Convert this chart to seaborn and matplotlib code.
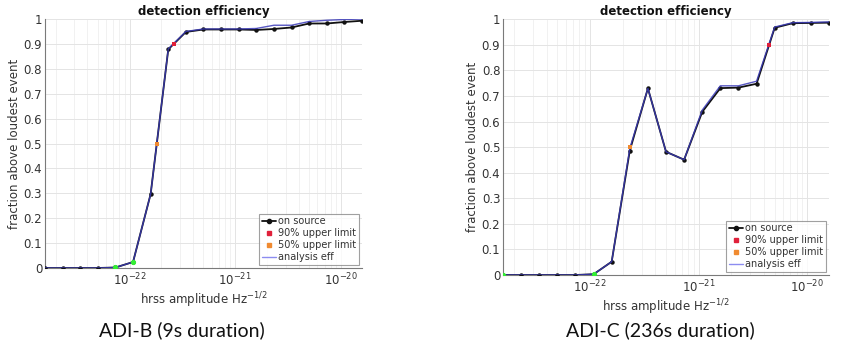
import numpy as np
import pandas as pd
import matplotlib
matplotlib.use("Agg")
import matplotlib.pyplot as plt
from matplotlib.ticker import LogLocator, NullFormatter, FixedLocator
from matplotlib.lines import Line2D
import seaborn as sns

# ---------------- data ----------------
hrss = [1.585e-23, 2.327e-23, 3.415e-23, 5.012e-23, 7.356e-23, 1.080e-22,
        1.585e-22, 2.327e-22, 3.415e-22, 5.012e-22, 7.356e-22, 1.080e-21,
        1.585e-21, 2.327e-21, 3.415e-21, 5.012e-21, 7.356e-21, 1.080e-20,
        1.585e-20]

adib_onsource = [0.0, 0.0, 0.0, 0.0, 0.002, 0.024, 0.297, 0.878, 0.948, 0.958,
                 0.958, 0.958, 0.956, 0.960, 0.966, 0.982, 0.982, 0.988, 0.993]
adib_eff = [0.0, 0.0, 0.0, 0.0, 0.002, 0.024, 0.297, 0.880, 0.950, 0.960,
            0.960, 0.960, 0.962, 0.975, 0.975, 0.990, 0.995, 0.998, 1.0]
adib_green_idx = [4, 5]
adib_ul90 = (2.63e-22, 0.9)
adib_ul50 = (1.82e-22, 0.5)

adic_onsource = [0.0, 0.0, 0.0, 0.0, 0.0, 0.003, 0.052, 0.487, 0.730, 0.482,
                 0.451, 0.638, 0.731, 0.733, 0.748, 0.967, 0.985, 0.986, 0.987]
adic_eff = [0.0, 0.0, 0.0, 0.0, 0.0, 0.003, 0.052, 0.495, 0.730, 0.482,
            0.451, 0.645, 0.740, 0.740, 0.758, 0.970, 0.987, 0.988, 0.990]
adic_green_idx = [0, 5]
adic_ul90 = (4.47e-21, 0.9)
adic_ul50 = (2.36e-22, 0.5)

captions = ["ADI-B (9s duration)", "ADI-C (236s duration)"]
title = "detection efficiency"
xlabel = "hrss amplitude Hz$^{-1/2}$"
ylabel = "fraction above loudest event"
legend_labels = ["on source", "90% upper limit", "50% upper limit", "analysis eff"]

# ---------------- style ----------------
sns.set_style("white")
plt.rcParams["font.family"] = ["DejaVu Sans"]
plt.rcParams["xtick.direction"] = "in"
plt.rcParams["ytick.direction"] = "in"

fig = plt.figure(figsize=(8.5, 3.45), dpi=100)
ax_l = fig.add_axes([0.0529, 0.2232, 0.373, 0.7217])
ax_r = fig.add_axes([0.5918, 0.2029, 0.3835, 0.741])

BLACK = "#111111"
BLUE = "#3a3ab8"
LBLUE = "#8c8cf0"
GREEN = "#33ee33"
RED = "#e0203a"
ORANGE = "#f08a30"
GRID = "#e4e4e4"
AXC = "#7a7a7a"
TXT = "#333333"


def draw(ax, onsrc, eff, green_idx, ul90, ul50):
    df = pd.DataFrame({"hrss": hrss, "on": onsrc, "eff": eff})
    sns.lineplot(data=df, x="hrss", y="on", ax=ax, color=BLACK, lw=1.3,
                 marker="o", markersize=3.2, markeredgewidth=0, zorder=3)
    sns.lineplot(data=df, x="hrss", y="eff", ax=ax, color=BLUE, lw=1.0,
                 zorder=4, alpha=0.85)
    g = df.iloc[green_idx]
    sns.scatterplot(data=g, x="hrss", y="on", ax=ax, color=GREEN, s=14,
                    linewidth=0, zorder=5)
    sns.scatterplot(x=[ul90[0]], y=[ul90[1]], ax=ax, color=RED, s=7,
                    marker="s", linewidth=0, zorder=6)
    sns.scatterplot(x=[ul50[0]], y=[ul50[1]], ax=ax, color=ORANGE, s=7,
                    marker="s", linewidth=0, zorder=6)

    ax.set_xscale("log")
    ax.set_xlim(hrss[0], hrss[-1])
    ax.set_ylim(0, 1)
    ax.xaxis.set_major_locator(FixedLocator([1e-22, 1e-21, 1e-20]))
    ax.xaxis.set_minor_locator(LogLocator(base=10, subs=np.arange(2, 10), numticks=20))
    ax.xaxis.set_minor_formatter(NullFormatter())
    ax.set_yticks(np.arange(0, 1.01, 0.1))
    ax.set_yticklabels(["0"] + [f"{v:.1f}" for v in np.arange(0.1, 0.95, 0.1)] + ["1"])
    ax.grid(True, which="major", color=GRID, lw=0.7)
    ax.grid(True, which="minor", axis="x", color="#efefef", lw=0.6)
    for s in ["top", "right"]:
        ax.spines[s].set_visible(False)
    for s in ["left", "bottom"]:
        ax.spines[s].set_color(AXC)
        ax.spines[s].set_linewidth(0.8)
    ax.tick_params(axis="both", which="major", labelsize=8.5, colors=AXC,
                   labelcolor=TXT, length=3, width=0.7)
    ax.tick_params(axis="y", which="major", pad=2)
    ax.tick_params(axis="x", which="major", pad=3)
    ax.tick_params(axis="x", which="minor", colors=AXC, length=2, width=0.6)
    ax.set_xlabel(xlabel, fontsize=8.5, color=TXT, labelpad=1)
    ax.set_ylabel(ylabel, fontsize=8.5, color=TXT, labelpad=2)
    ax.set_title(title, fontsize=8.5, fontweight="bold", color="#111111", pad=3)

    handles = [
        Line2D([], [], color=BLACK, lw=1.3, marker="o", markersize=3),
        Line2D([], [], color=RED, lw=0, marker="s", markersize=2.3),
        Line2D([], [], color=ORANGE, lw=0, marker="s", markersize=2.3),
        Line2D([], [], color=LBLUE, lw=1.0),
    ]
    leg = ax.legend(handles, legend_labels, loc="lower right", fontsize=7,
                    frameon=True, fancybox=False, edgecolor="#888888",
                    borderpad=0.25, labelspacing=0.2, handlelength=1.5,
                    handletextpad=0.2, borderaxespad=0.35)
    leg.get_frame().set_linewidth(0.8)
    for t in leg.get_texts():
        t.set_color(TXT)


draw(ax_l, adib_onsource, adib_eff, adib_green_idx, adib_ul90, adib_ul50)
draw(ax_r, adic_onsource, adic_eff, adic_green_idx, adic_ul90, adic_ul50)

fig.text(182 / 850, 1 - 330 / 345, captions[0], fontsize=14, family="Lato",
         ha="center", va="center", color="#111111")
fig.text(660 / 850, 1 - 330 / 345, captions[1], fontsize=14, family="Lato",
         ha="center", va="center", color="#111111")

fig.savefig("out.png", dpi=100, facecolor="white")
